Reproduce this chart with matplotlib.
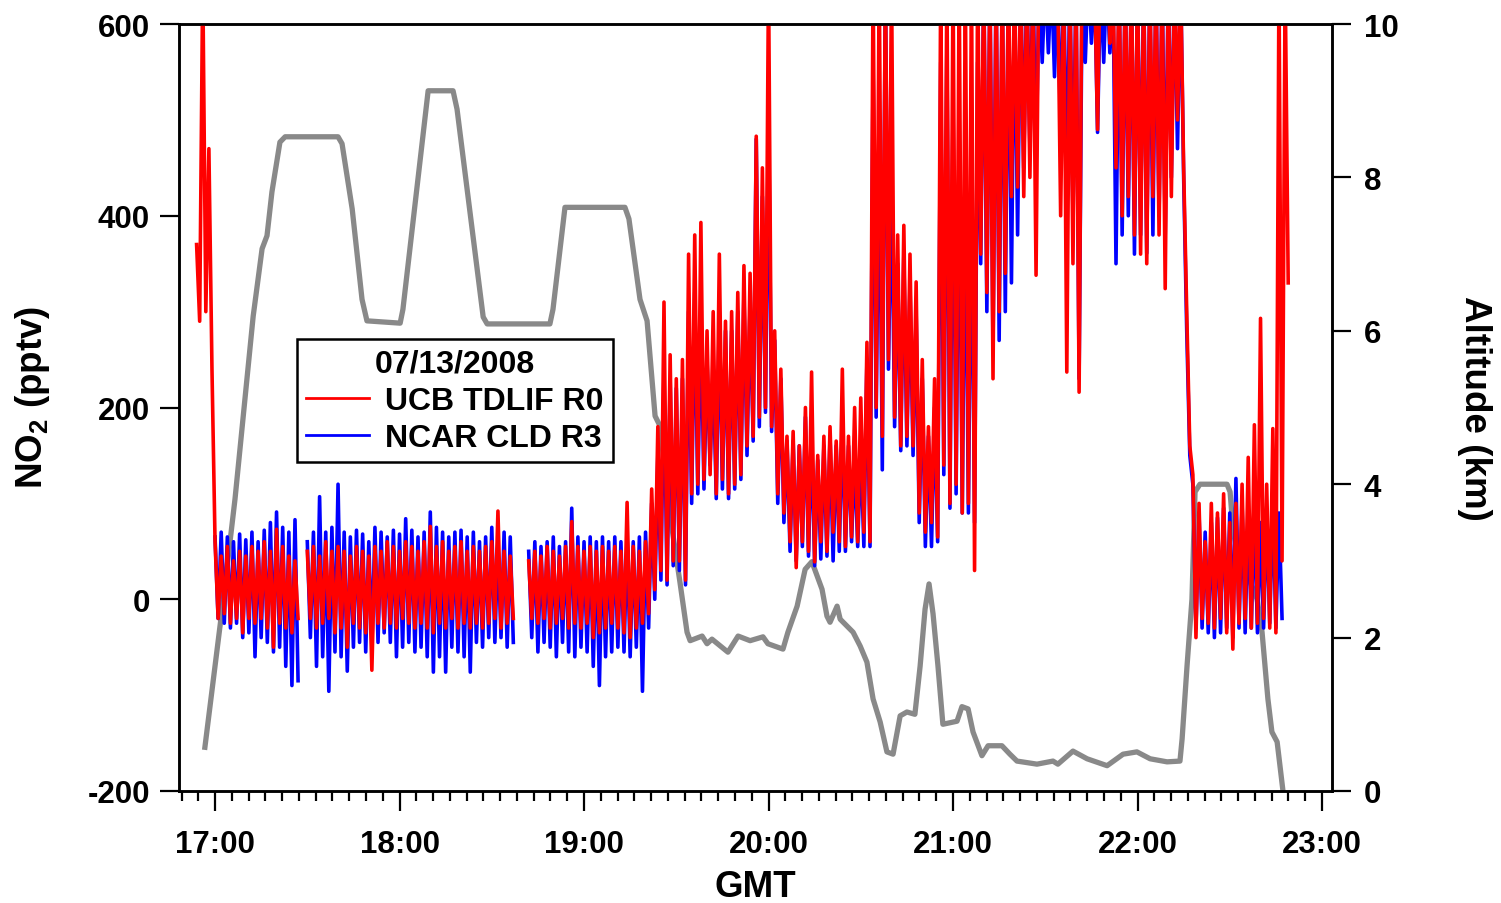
import numpy as np
import matplotlib
matplotlib.use('Agg')
import matplotlib.pyplot as plt
from matplotlib.ticker import MultipleLocator, FuncFormatter

plt.rcParams['font.family'] = ['Liberation Sans', 'DejaVu Sans']
plt.rcParams['font.weight'] = 'bold'
plt.rcParams['font.size'] = 22.5
plt.rcParams['axes.labelweight'] = 'bold'
plt.rcParams['axes.linewidth'] = 1.8
plt.rcParams['axes.unicode_minus'] = False

nan = float('nan')

# NO2 envelope in 2-minute bins, first bin at 16:54 GMT (minutes after 17:00)
bin_start = -6
bin_step = 2

ucb_hi = [370, 650, 470, 60, 45, 55, 40, 50, 45, 55,
          50, 60, 50, 73, 55, 45, 40, nan, 50, 55,
          45, 60, 50, 55, 50, 45, 55, 50, 45, 55,
          50, 60, 55, 50, 60, 55, 50, 60, 76, 55,
          60, 50, 55, 60, 50, 55, 50, 55, 60, 92,
          50, 45, nan, nan, 40, 50, 45, 55, 50, 45,
          55, 81, 55, 50, 55, 50, 55, 50, 55, 50,
          101, 55, 50, 60, 115, 180, 310, 255, 230, 250,
          360, 380, 393, 280, 300, 360, 290, 300, 320, 348,
          340, 483, 450, 650, 280, 240, 170, 175, 160, 200,
          237, 150, 170, 180, 165, 240, 170, 200, 210, 268,
          650, 650, 650, 650, 380, 390, 360, 331, 250, 180,
          230, 650, 650, 650, 650, 650, 650, 650, 650, 650,
          650, 650, 650, 650, 650, 650, 650, 700, 700, 700,
          650, 650, 650, 650, 700, 700, 650, 700, 700, 650,
          650, 650, 650, 650, 650, 650, 650, 650, 650, 650,
          650, 300, 130, 100, 60, 100, 90, 110, 80, 100,
          120, 148, 182, 293, 120, 178, 650, 650]
ucb_lo = [290, 300, 240, -20, -15, -25, -20, -35, -20, -25,
          -20, -30, -50, -25, -30, -35, -20, nan, -20, -30,
          -25, -20, -35, -30, -50, -25, -30, -35, -74, -25,
          -30, -25, -30, -20, -25, -30, -25, -30, -35, -25,
          -30, -20, -30, -25, -30, -25, -30, -25, -20, -30,
          -25, -20, nan, nan, -20, -25, -20, -30, -25, -20,
          -30, -25, -30, -25, -40, -35, -30, -25, -30, -35,
          -40, -30, -25, -15, 10, 30, 20, 40, 40, 20,
          110, 120, 125, 130, 110, 125, 110, 120, 130, 160,
          170, 190, 200, 180, 110, 90, 60, 33, 60, 50,
          39, 60, 50, 70, 60, 55, 65, 60, 70, 60,
          200, 170, 250, 190, 160, 170, 160, 90, 70, 80,
          65, 140, 100, 120, 90, 100, 30, 360, 320, 230,
          300, 340, 420, 430, 420, 440, 338, 620, 640, 620,
          400, 237, 350, 216, 640, 630, 490, 620, 580, 450,
          400, 420, 380, 360, 350, 420, 380, 324, 420, 500,
          450, 160, -40, -20, -25, -30, -20, -35, -52, -25,
          -20, -30, -25, -20, -30, -35, 40, 330]

ncar_hi = [nan, nan, nan, 65, 70, 65, 60, 68, 62, 70,
           60, 72, 80, 91, 75, 70, 83, nan, 60, 70,
           107, 70, 75, 120, 70, 65, 72, 68, 60, 75,
           70, 65, 72, 68, 84, 72, 65, 70, 91, 75,
           70, 65, 70, 72, 65, 70, 60, 65, 75, 60,
           70, 65, nan, nan, 50, 60, 55, 60, 65, 55,
           60, 95, 65, 60, 65, 60, 65, 60, 65, 60,
           65, 60, 65, 70, 100, 150, 240, 230, 220, 230,
           300, 320, 300, 250, 240, 300, 280, 280, 300, 320,
           310, 480, 420, 514, 270, 230, 165, 165, 160, 190,
           175, 145, 160, 170, 160, 190, 160, 150, 160, 250,
           560, 500, 650, 450, 350, 360, 330, 300, 230, 170,
           200, 560, 580, 520, 500, 450, 450, 560, 650, 650,
           650, 650, 650, 650, 650, 650, 650, 650, 650, 650,
           650, 650, 650, 650, 650, 650, 650, 650, 650, 650,
           650, 650, 650, 650, 650, 650, 650, 650, 650, 650,
           650, 280, 120, 90, 70, 80, 85, 95, 90, 126,
           100, 95, 100, 80, 90, 100, 90, nan]
ncar_lo = [nan, nan, nan, -20, -25, -30, -25, -40, -35, -60,
           -40, -45, -55, -50, -70, -90, -85, nan, -40, -70,
           -60, -96, -55, -60, -75, -50, -45, -55, -50, -45,
           -35, -45, -60, -50, -45, -55, -50, -60, -76, -60,
           -76, -50, -55, -60, -76, -45, -50, -40, -45, -40,
           -50, -45, nan, nan, -40, -55, -45, -50, -60, -45,
           -55, -60, -50, -55, -70, -90, -60, -55, -50, -55,
           -60, -50, -96, -30, 0, 20, 15, 35, 30, 15,
           100, 110, 115, 140, 105, 115, 105, 115, 125, 150,
           165, 180, 195, 175, 100, 80, 50, 40, 55, 45,
           35, 42, 45, 40, 50, 50, 60, 55, 55, 55,
           190, 135, 240, 180, 155, 160, 150, 80, 55, 55,
           60, 130, 95, 110, 90, 90, 80, 350, 300, 259,
           270, 300, 330, 380, 450, 470, 450, 560, 570, 545,
           480, 418, 400, 230, 560, 580, 487, 560, 570, 350,
           380, 400, 360, 380, 361, 380, 400, 380, 440, 470,
           440, 150, -30, -30, -35, -40, -35, -30, -40, -30,
           -35, -30, -35, -30, -25, -30, -20, nan]

# aircraft altitude: minutes after 17:00 GMT, km
alt_min = [-3.3, 2.3, 6.5, 12.4, 15.3, 16.9, 18.5, 21.1, 22.8, 40.0,
           41.3, 44.6, 47.8, 49.4, 60.2, 61.1, 69.3, 77.4, 78.7, 87.2,
           88.5, 108.9, 109.9, 113.8, 133.3, 134.6, 138.2, 140.5, 143.1, 144.7,
           148.0, 151.2, 153.5, 154.5, 158.4, 160.0, 161.6, 166.8, 170.1, 174.0,
           178.2, 179.8, 184.7, 186.3, 189.3, 191.9, 194.1, 197.4, 199.0, 200.0,
           202.3, 203.3, 207.5, 209.8, 212.0, 214.0, 216.3, 218.5, 220.5, 222.8,
           225.0, 227.6, 229.3, 230.9, 232.2, 233.5, 235.1, 236.7, 241.3, 242.9,
           244.9, 246.5, 249.4, 251.4, 255.9, 258.5, 260.8, 267.3, 272.5, 274.1,
           279.0, 283.6, 290.1, 295.3, 299.8, 304.1, 309.6, 313.8, 314.5, 316.1,
           317.7, 318.7, 320.3, 329.1, 330.1, 331.1, 332.3, 338.9, 340.5, 342.4,
           343.7, 345.4, 347.3]
alt_km = [0.57, 2.37, 3.81, 6.19, 7.07, 7.24, 7.81, 8.46, 8.53, 8.53,
          8.44, 7.59, 6.41, 6.13, 6.10, 6.28, 9.13, 9.13, 8.89, 6.18,
          6.09, 6.09, 6.28, 7.61, 7.61, 7.46, 6.41, 6.13, 4.89, 4.76,
          3.59, 2.72, 2.07, 1.96, 2.02, 1.92, 1.98, 1.81, 2.02, 1.96,
          2.01, 1.92, 1.85, 2.07, 2.41, 2.89, 2.99, 2.63, 2.28, 2.20,
          2.41, 2.24, 2.07, 1.89, 1.68, 1.20, 0.90, 0.51, 0.48, 0.98,
          1.03, 1.00, 1.63, 2.37, 2.70, 2.31, 1.63, 0.87, 0.91, 1.10,
          1.07, 0.77, 0.46, 0.59, 0.59, 0.48, 0.39, 0.35, 0.39, 0.35,
          0.52, 0.42, 0.33, 0.48, 0.51, 0.42, 0.38, 0.39, 0.68, 1.63,
          2.50, 3.90, 4.00, 4.00, 3.90, 3.38, 3.16, 2.50, 2.07, 1.20,
          0.77, 0.64, 0.0]


def band(hi, lo):
    # zig-zag through the high and low value of every bin
    t, v = [], []
    for k, (h, l) in enumerate(zip(hi, lo)):
        m = bin_start + k * bin_step
        t += [m, m + bin_step / 2]
        v += [h, l]
    return 17 + np.array(t) / 60, np.array(v)


fig = plt.figure(figsize=(15.01, 9.04), dpi=100)
ax = fig.add_axes([0.1193, 0.1239, 0.7681, 0.8484])
ax2 = ax.twinx()

ax2.plot(17 + np.array(alt_min) / 60, alt_km, color='#898989', lw=3.8)
ax.set_zorder(ax2.get_zorder() + 1)
ax.patch.set_visible(False)

t, v = band(ncar_hi, ncar_lo)
l_ncar, = ax.plot(t, v, color='#0000ff', lw=2.6, label='NCAR CLD R3')
t, v = band(ucb_hi, ucb_lo)
l_ucb, = ax.plot(t, v, color='#ff0000', lw=2.6, label='UCB TDLIF R0')

ax.set_xlim(16.805, 23.054)
ax.set_ylim(-200, 600)
ax2.set_ylim(0, 10)
ax.set_yticks([-200, 0, 200, 400, 600])
ax2.set_yticks([0, 2, 4, 6, 8, 10])
ax.xaxis.set_major_locator(MultipleLocator(1))
ax.xaxis.set_minor_locator(MultipleLocator(1 / 11))
ax.xaxis.set_major_formatter(FuncFormatter(lambda x, p: '%d:00' % round(x)))

ax.tick_params(axis='y', direction='out', length=14, width=1.6, pad=7)
ax.tick_params(axis='x', which='major', direction='out', length=14.5, width=1.6, pad=13)
ax.tick_params(axis='x', which='minor', direction='out', length=7.5, width=1.6)
ax2.tick_params(axis='y', direction='out', length=14, width=1.6, pad=9)

ax.set_xlabel('GMT', fontsize=26.5, va='center')
ax.xaxis.set_label_coords(0.5, -0.124)
ax.set_ylabel('NO$_\\mathregular{2}$ (pptv)', fontsize=26.5, va='center')
ax.yaxis.set_label_coords(-0.1275, 0.515)
ax2.set_ylabel('Altitude (km)', fontsize=26.5, rotation=-90, va='center')
ax2.yaxis.set_label_coords(1.124, 0.5)

leg = ax.legend(handles=[l_ucb, l_ncar], title='07/13/2008', loc='upper left',
                bbox_to_anchor=(0.102, 0.589), borderaxespad=0,
                fancybox=False, edgecolor='black', framealpha=1,
                fontsize=23, title_fontsize=23, handlelength=1.95,
                handletextpad=0.5, borderpad=0.3, labelspacing=0.22)
leg.get_frame().set_linewidth(1.8)
leg.get_title().set_fontweight('bold')
for line in leg.get_lines():
    line.set_linewidth(2)

fig.savefig('out.png', dpi=100)
